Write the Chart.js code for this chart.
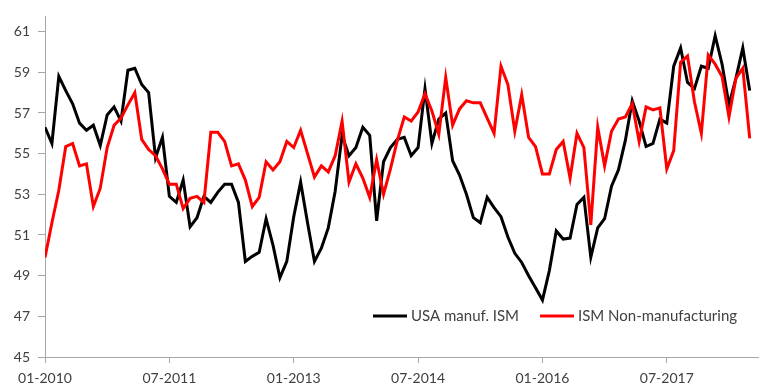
<!DOCTYPE html>
<html>
<head>
<meta charset="utf-8">
<script src="https://cdn.jsdelivr.net/npm/chart.js@4.4.1/dist/chart.umd.min.js"></script>
<style>
  html, body { margin: 0; padding: 0; background: #ffffff; }
  #wrap { position: relative; width: 760px; height: 392px; }
</style>
</head>
<body>
<div id="wrap"><canvas id="c" width="760" height="392"></canvas></div>
<script>
// Monthly observations, Jan 2010 .. Jul 2018 (index 0 = 01-2010)
const usaManufISM = [
  56.3, 55.5, 58.8, 58.1, 57.45, 56.5, 56.15, 56.4, 55.4, 56.9, 57.3, 56.6,
  59.1, 59.2, 58.4, 58.0, 54.8, 55.8, 52.9, 52.6, 53.7, 51.4, 51.85, 52.9,
  52.6, 53.1, 53.5, 53.5, 52.6, 49.7, 49.95, 50.15, 51.8, 50.5, 48.9, 49.7,
  51.9, 53.6, 51.6, 49.7, 50.35, 51.35, 53.15, 55.9, 54.9, 55.3, 56.3, 55.9,
  51.7, 54.6, 55.3, 55.7, 55.8, 54.9, 55.3, 58.2, 55.5, 56.7, 57.0, 54.65,
  53.95, 53.0, 51.85, 51.6, 52.85, 52.35, 51.9, 50.9, 50.1, 49.65, 49.0, 48.4,
  47.8, 49.25, 51.2, 50.8, 50.85, 52.5, 52.85, 49.9, 51.35, 51.8, 53.4, 54.2,
  55.65, 57.6, 56.6, 55.35, 55.5, 56.7, 56.5, 59.3, 60.2, 58.5, 58.2, 59.3,
  59.2, 60.8, 59.4, 57.4, 58.7, 60.2, 58.1
];
const ismNonManufacturing = [
  49.9, 51.6, 53.2, 55.35, 55.5, 54.4, 54.5, 52.4, 53.3, 55.3, 56.4, 56.75,
  57.4, 58.0, 55.7, 55.2, 54.9, 54.25, 53.5, 53.5, 52.3, 52.8, 52.9, 52.6,
  56.05, 56.05, 55.6, 54.4, 54.5, 53.7, 52.4, 52.85, 54.6, 54.2, 54.6, 55.6,
  55.3, 56.15, 55.0, 53.85, 54.4, 54.1, 54.9, 56.6, 53.6, 54.5, 53.8, 52.85,
  54.7, 53.0, 54.25, 55.65, 56.8, 56.6, 57.05, 57.95, 57.1, 55.95, 58.75, 56.4,
  57.2, 57.6, 57.5, 57.5, 56.75, 56.0, 59.3, 58.4, 56.1, 57.9, 55.8, 55.35,
  54.0, 54.0, 55.2, 55.6, 53.8, 56.0, 55.3, 51.5, 56.3, 54.4, 56.1, 56.7,
  56.8, 57.45, 55.6, 57.3, 57.15, 57.25, 54.25, 55.15, 59.5, 59.8, 57.55, 56.0,
  59.85, 59.4, 58.8, 56.8, 58.7, 59.2, 55.75
];
const seriesNames = ['USA manuf. ISM', 'ISM Non-manufacturing'];
const xTickIndex = [0, 18, 36, 54, 72, 90];
const xTickLabels = ['01-2010', '07-2011', '01-2013', '07-2014', '01-2016', '07-2017'];
const yTickValues = [45, 47, 49, 51, 53, 55, 57, 59, 61];

const toPoints = arr => arr.map((v, i) => ({ x: i, y: v }));

const FONT = 'Lato, "Open Sans", "Liberation Sans", sans-serif';
const TEXT = '#404040';
const AXIS = '#a6a6a6';

const inlineLegend = {
  id: 'inlineLegend',
  afterDatasetsDraw(chart) {
    const ctx = chart.ctx;
    const items = [
      { name: seriesNames[0], color: '#000000', x0: 373, x1: 407, tx: 411 },
      { name: seriesNames[1], color: '#ff0000', x0: 540, x1: 574, tx: 578 }
    ];
    const y = 316;
    ctx.save();
    ctx.font = '15px ' + FONT;
    ctx.textBaseline = 'middle';
    ctx.textAlign = 'left';
    items.forEach(it => {
      ctx.strokeStyle = it.color;
      ctx.lineWidth = 3;
      ctx.beginPath();
      ctx.moveTo(it.x0, y);
      ctx.lineTo(it.x1, y);
      ctx.stroke();
      ctx.fillStyle = TEXT;
      ctx.fillText(it.name, it.tx, y);
    });
    ctx.restore();
  }
};

new Chart(document.getElementById('c'), {
  type: 'line',
  data: {
    datasets: [
      {
        label: seriesNames[0],
        data: toPoints(usaManufISM),
        borderColor: '#000000',
        borderWidth: 3,
        pointRadius: 0,
        tension: 0,
        fill: false,
        order: 1
      },
      {
        label: seriesNames[1],
        data: toPoints(ismNonManufacturing),
        borderColor: '#ff0000',
        borderWidth: 3,
        pointRadius: 0,
        tension: 0,
        fill: false,
        order: 0
      }
    ]
  },
  options: {
    responsive: false,
    animation: false,
    events: [],
    layout: { padding: { left: 0, right: 2, top: 0, bottom: 0 } },
    plugins: { legend: { display: false }, tooltip: { enabled: false } },
    scales: {
      x: {
        type: 'linear',
        min: 0,
        max: 103.2,
        afterBuildTicks: s => { s.ticks = xTickIndex.map(v => ({ value: v })); },
        afterFit: s => { s.height = 35; },
        grid: { drawOnChartArea: false, drawTicks: true, tickLength: 6, color: AXIS },
        border: { color: AXIS, width: 1 },
        ticks: {
          autoSkip: false,
          maxRotation: 0,
          padding: 7,
          color: TEXT,
          font: { size: 14, family: FONT },
          callback: v => xTickLabels[xTickIndex.indexOf(v)]
        }
      },
      y: {
        type: 'linear',
        min: 45,
        max: 61.75,
        afterBuildTicks: s => { s.ticks = yTickValues.map(v => ({ value: v })); },
        afterFit: s => { s.width = 45; },
        grid: { drawOnChartArea: false, drawTicks: true, tickLength: 7, color: AXIS },
        border: { color: AXIS, width: 1 },
        ticks: {
          padding: 8,
          color: TEXT,
          font: { size: 14, family: FONT },
          callback: v => String(v)
        }
      }
    }
  },
  plugins: [inlineLegend]
});
</script>
</body>
</html>
